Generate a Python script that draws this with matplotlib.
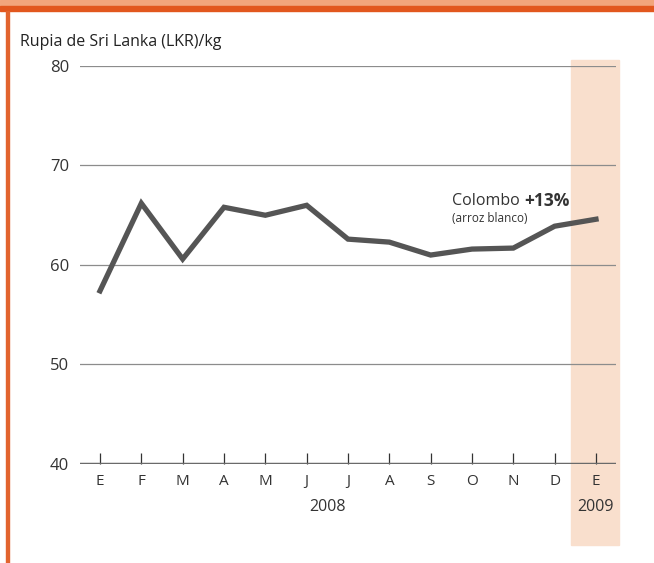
import matplotlib.pyplot as plt
from matplotlib.patches import Rectangle
from matplotlib.transforms import blended_transform_factory

plt.rcParams['font.family'] = ['Open Sans', 'DejaVu Sans']

months = ['E', 'F', 'M', 'A', 'M', 'J', 'J', 'A', 'S', 'O', 'N', 'D', 'E']
price = [57.4, 66.2, 60.6, 65.8, 65.0, 66.0, 62.6, 62.3, 61.0, 61.6, 61.7, 63.9, 64.6]
yticks = [40, 50, 60, 70, 80]

W, H = 654, 563
fig = plt.figure(figsize=(W / 100, H / 100), dpi=100)

# orange frame: top band and left rule
fig.patches.append(Rectangle((0, 1 - 6 / H), 1, 6 / H, transform=fig.transFigure,
                             color='#f2a57c', zorder=0))
fig.patches.append(Rectangle((0, 1 - 11 / H), 1, 5 / H, transform=fig.transFigure,
                             color='#e2571e', zorder=0))
fig.patches.append(Rectangle((6 / W, 0), 3 / W, 1 - 11 / H, transform=fig.transFigure,
                             color='#e2642e', zorder=0))

ax = fig.add_axes([80 / W, 1 - 464 / H, 536 / W, 398 / H])
x = list(range(len(months)))
ax.set_xlim(-0.484, len(months) - 1 + 0.484)
ax.set_ylim(40, 80)

# highlight for 2009
tr = blended_transform_factory(ax.transData, fig.transFigure)
ax.add_patch(Rectangle((x[-1] - 0.6, 1 - 545 / H), 1.16, 485 / H, transform=tr,
                       color='#f9dfcd', clip_on=False, zorder=0))

for v in yticks[1:]:
    ax.axhline(v, color='#8c8c8c', lw=0.9, zorder=1)
ax.axhline(40, color='#6a6a6a', lw=2.5, zorder=3)

ax.plot(x, price, color='#555555', lw=3.8, solid_joinstyle='miter', zorder=4)

for s in ax.spines.values():
    s.set_visible(False)
ax.patch.set_alpha(0)

ax.set_yticks(yticks)
ax.tick_params(axis='y', length=0, pad=8, labelsize=12, labelcolor='#333333')
ax.set_xticks(x)
ax.set_xticklabels(months)
ax.tick_params(axis='x', direction='in', length=8, width=0.9, color='#333333',
               pad=7, labelsize=11, labelcolor='#333333')

bt = blended_transform_factory(ax.transData, ax.transAxes)
ax.text((x[0] + x[11]) / 2, -0.108, '2008', transform=bt,
        ha='center', va='center', fontsize=11.5, color='#333333')
ax.text(x[-1], -0.108, '2009', transform=bt,
        ha='center', va='center', fontsize=11.5, color='#333333')

fig.text(20 / W, 1 - 42 / H, 'Rupia de Sri Lanka (LKR)/kg', ha='left', va='center',
         fontsize=11.5, color='#222222')

t1 = ax.text(8.52, 66.4, 'Colombo ', ha='left', va='center', fontsize=11.5, color='#333333')
ax.annotate('+13%', xy=(1, 0.5), xycoords=t1, ha='left', va='center',
            fontsize=12.5, fontweight='bold', color='#333333')
ax.text(8.52, 64.7, '(arroz blanco)', ha='left', va='center', fontsize=8.5, color='#333333')

fig.savefig('out.png', dpi=100)
